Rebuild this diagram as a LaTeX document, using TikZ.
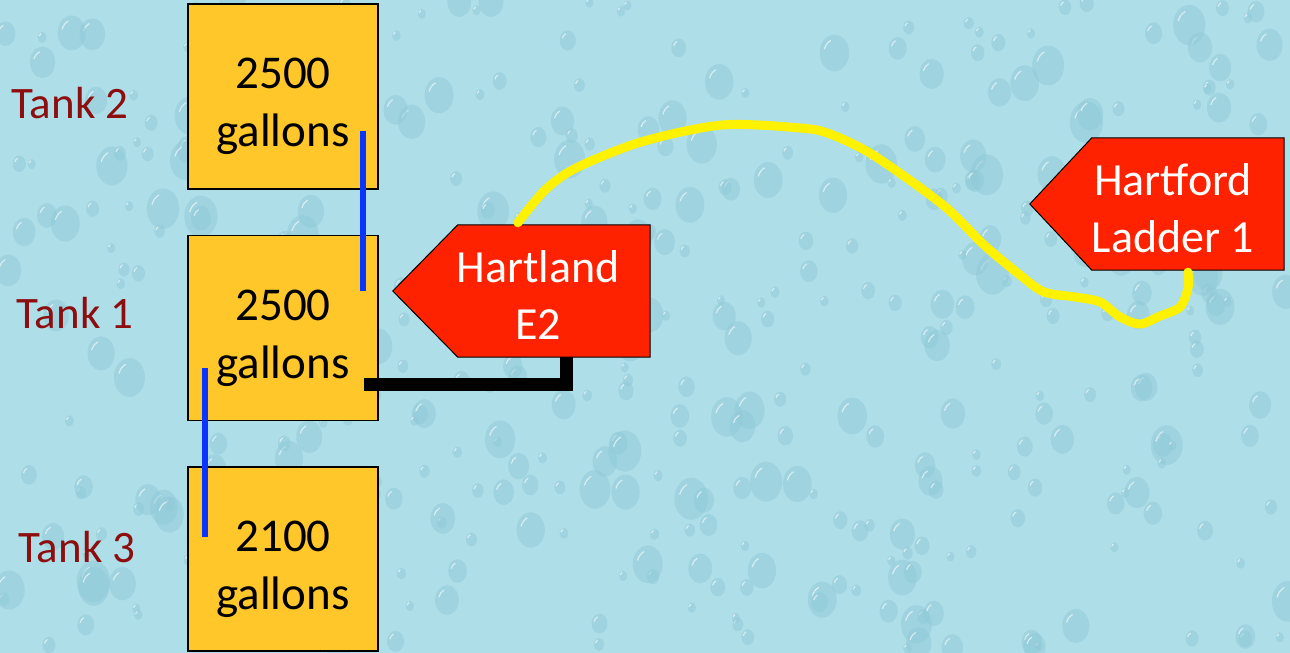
\documentclass[tikz,border=0pt]{standalone}
\usepackage{fontspec}
\setmainfont{Carlito}
\usetikzlibrary{calc}
\definecolor{bgc}{HTML}{AEDEE8}
\definecolor{dropc}{HTML}{92CAD8}
\definecolor{tankfill}{HTML}{FFC729}
\definecolor{signred}{HTML}{FF2200}
\definecolor{lblred}{HTML}{8C0E0E}
\definecolor{pipeblue}{HTML}{0A35FF}
\definecolor{hoseyellow}{HTML}{FFF200}
\tikzset{
  tankbox/.style={draw=black, line width=1.5pt, fill=tankfill, minimum width=190pt, minimum height=185pt, inner sep=0pt},
  tanktxt/.style={align=center, inner sep=0pt, font=\fontsize{47}{58}\selectfont, yshift=-10pt},
  tanklabel/.style={text=lblred, font=\fontsize{45}{54}\selectfont, inner sep=0pt},
  signrect/.style={minimum width=192pt, minimum height=132pt, inner sep=0pt},
  signtext/.style={text=white, align=center, font=\fontsize{46}{57}\selectfont, inner sep=0pt},
  signshape/.style={fill=signred, draw=black, line width=1pt},
  bluepipe/.style={draw=pipeblue, line width=6pt},
  blackhose/.style={draw=black, line width=13pt},
  yellowhose/.style={draw=hoseyellow, line width=9pt, line cap=round, line join=round},
  drop/.style={fill=dropc, fill opacity=0.55},
  drophi/.style={draw=white, draw opacity=0.6, line width=1.2pt},
}
\begin{document}
\begin{tikzpicture}[x=1pt, y=-1pt]
\useasboundingbox (0,0) rectangle (1290,653);
\fill[bgc] (0,0) rectangle (1290,653);
% water-drop texture
\pgfmathsetseed{4711}
\begin{scope}
\clip (0,0) rectangle (1290,653);
\foreach \i in {1,...,420}{
  \pgfmathsetmacro{\dx}{1290*rnd}
  \pgfmathsetmacro{\dy}{653*rnd}
  \pgfmathsetmacro{\dr}{5+16*rnd^2}
  \fill[drop] (\dx,\dy) ellipse ({\dr*0.8} and \dr);
  \draw[drophi] ($(\dx,\dy)+({-\dr*0.55},{-\dr*0.2})$) arc[start angle=200, end angle=250, x radius={\dr*0.6}, y radius={\dr*0.8}];
}
\end{scope}

% tanks
\node[tankbox, label={[tanktxt]center:{2500\\gallons}}] (t2) at (283,96.5) {};
\node[tankbox, label={[tanktxt]center:{2500\\gallons}}] (t1) at (283,328) {};
\node[tankbox, minimum height=184pt, label={[tanktxt]center:{2100\\gallons}}] (t3) at (283,559) {};

\node[tanklabel] (l2) at (70,103) {Tank 2};
\node[tanklabel] (l1) at (75,313) {Tank 1};
\node[tanklabel] (l3) at (77,547) {Tank 3};

% blue pipes
\coordinate (b1s) at ($(t2.south east)+(-16,-59)$);
\coordinate (b1e) at ($(t1.north east)+(-16,56)$);
\coordinate (b2s) at ($(t1.south west)+(18,-53)$);
\coordinate (b2e) at ($(t3.north west)+(18,71)$);
\draw[bluepipe] (b1s) -- (b1e);
\draw[bluepipe] (b2s) -- (b2e);

% signs
\node[signrect] (hl) at (554,291) {};
\node[signrect] (hf) at (1188,204) {};

% black hose
\coordinate (bks) at ($(t1.east)+(-15,56)$);
\coordinate (bke) at ($(hl.south)+(12,0)$);
\draw[blackhose] (bks) -| (bke);

\draw[signshape] (hl.north west) -- (hl.north east) -- (hl.south east) -- (hl.south west) -- ($(hl.west)+(-65,0)$) -- cycle;
\draw[signshape] (hf.north west) -- (hf.north east) -- (hf.south east) -- (hf.south west) -- ($(hf.west)+(-62,0)$) -- cycle;
\node[signtext] (hlt) at (538,295) {Hartland\\E2};
\node[signtext] (hft) at (1173,208) {Hartford\\Ladder 1};

% yellow hose
\coordinate (ys) at ($(hl.north west)+(60,-2)$);
\coordinate (ye) at ($(hf.south)+(0,2)$);
\draw[yellowhose] plot[smooth, tension=0.5] coordinates {(ys) (545,190) (576,168) (641,142) (722,125) (800,128) (830,134) (873,155) (943,205) (984,245) (1020,275) (1044,292) (1075,297) (1100,302) (1120,317) (1140,324) (1160,316) (1180,307) (1188,288) (ye)};
\end{tikzpicture}
\end{document}
